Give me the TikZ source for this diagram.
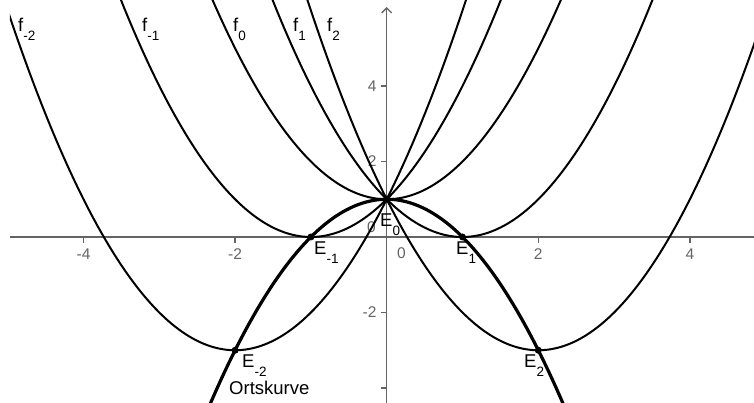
\documentclass[tikz,border=0pt]{standalone}
\usepackage{fontspec}
\setmainfont{Liberation Sans}
\usetikzlibrary{arrows.meta}
\definecolor{axisgray}{RGB}{100,100,100}
\newcommand{\sublab}[2]{#1\raisebox{-0.45em}{\fontsize{13.5}{14}\selectfont #2}}
\begin{document}
\begin{tikzpicture}[x=1pt,y=1pt,
  curve/.style={line width=2pt, black},
  locus/.style={line width=3.2pt, black},
  axis/.style={axisgray, line width=1.3pt},
  tickmark/.style={axisgray, line width=1.3pt},
  ticklab/.style={text=axisgray, font=\fontsize{15.5}{16}\selectfont, inner sep=0pt},
  lab/.style={font=\fontsize{18.5}{19}\selectfont, inner sep=0pt, anchor=base west},
  dot/.style={circle, fill=black, inner sep=0pt, minimum size=7pt}]
\useasboundingbox (0,0) rectangle (754,403);
\begin{scope}[shift={(386.7,166)}, x=75.8pt, y=37.75pt]
  % axes
  \coordinate (xl) at (-4.97,0);
  \coordinate (xr) at (4.85,0);
  \coordinate (yb) at (0,-4.4);
  \coordinate (yt) at (0,6.093);
  \draw[axis] (xl) -- (xr);
  \draw[axis, -{Straight Barb[length=5pt, width=10pt]}] (yb) -- (yt);
  % x ticks
  \foreach \t in {-4,-2,2,4} {
    \coordinate (xt\t) at (\t,0);
    \draw[tickmark] (xt\t) -- ++(0,-6pt);
    \node[ticklab, anchor=base] (xtl\t) at ([yshift=-23pt]xt\t) {\t};
  }
  % y ticks
  \foreach \t in {-4,-2,2,4} {
    \coordinate (yt\t) at (0,\t);
    \draw[tickmark] (yt\t) -- ++(-6pt,0);
  }
  \foreach \t in {-2,2,4} {
    \node[ticklab, anchor=east] (ytl\t) at ([xshift=-10pt]yt\t) {\t};
  }
  \coordinate (O) at (0,0);
  \node[ticklab, anchor=base west] (o1) at ([xshift=10.3pt, yshift=-22pt]O) {0};
  \node[ticklab, anchor=base west] (o2) at ([xshift=-19.7pt, yshift=4pt]O) {0};
  % curves
  \begin{scope}
    \clip (-4.97,-4.4) rectangle (4.85,6.28);
    \foreach \k in {-2,-1,0,1,2}
      \draw[curve] plot[domain=-5.1:5, samples=241, smooth] (\x, {\x*\x-2*\k*\x+1});
    \draw[locus] plot[domain=-2.45:2.45, samples=121, smooth] (\x, {1-\x*\x});
  \end{scope}
  % points
  \foreach \k in {-2,-1,0,1,2}
    \node[dot] (E\k) at (\k, {1-\k*\k}) {};
\end{scope}
% labels (pixel coordinates)
\node[lab] (lf-2) at (18,371) {\sublab{f}{-2}};
\node[lab] (lf-1) at (142,371) {\sublab{f}{-1}};
\node[lab] (lf0) at (233,371) {\sublab{f}{0}};
\node[lab] (lf1) at (293,371) {\sublab{f}{1}};
\node[lab] (lf2) at (327,371) {\sublab{f}{2}};
\node[lab] (lE0) at (380,176) {\sublab{E}{0}};
\node[lab] (lE-1) at (314,148) {\sublab{E}{-1}};
\node[lab] (lE1) at (456,148) {\sublab{E}{1}};
\node[lab] (lE-2) at (242,35) {\sublab{E}{-2}};
\node[lab] (lE2) at (524,35) {\sublab{E}{2}};
\node[lab] (lort) at (229,8) {Ortskurve};
\end{tikzpicture}
\end{document}
